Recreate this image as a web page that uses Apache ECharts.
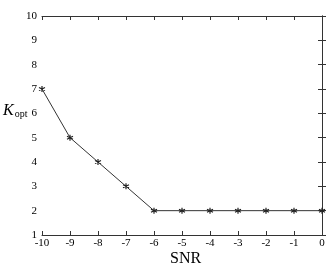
<!DOCTYPE html>
<html>
<head>
<meta charset="utf-8">
<script src="https://cdn.jsdelivr.net/npm/echarts@6/dist/echarts.min.js"></script>
<style>
  html, body { margin: 0; padding: 0; background: #fff; }
  #chart { width: 330px; height: 268px; }
</style>
</head>
<body>
<div id="chart"></div>
<script>
// data
var snr = [-10, -9, -8, -7, -6, -5, -4, -3, -2, -1, 0];
var kopt = [7, 5, 4, 3, 2, 2, 2, 2, 2, 2, 2];

var points = snr.map(function (s, i) { return [s, kopt[i]]; });

var serif = '"Liberation Serif", "DejaVu Serif", serif';
var lineCol = '#333';

var chart = echarts.init(document.getElementById('chart'));

var baseX = {
  type: 'value', min: -10, max: 0, interval: 1,
  axisLine: { lineStyle: { color: lineCol, width: 1 } },
  axisTick: { inside: true, length: 4, lineStyle: { color: lineCol } },
  splitLine: { show: false }
};
var baseY = {
  type: 'value', min: 1, max: 10, interval: 1,
  axisLine: { show: true, lineStyle: { color: lineCol, width: 1 } },
  axisTick: { show: true, inside: true, length: 4, lineStyle: { color: lineCol } },
  splitLine: { show: false }
};

var option = {
  animation: false,
  grid: { left: 42, right: 8, top: 16, bottom: 33 },
  xAxis: [
    Object.assign({}, baseX, {
      position: 'bottom',
      axisLabel: { color: '#000', fontFamily: serif, fontSize: 11, margin: 3 }
    }),
    Object.assign({}, baseX, { position: 'top', axisLabel: { show: false } })
  ],
  yAxis: [
    Object.assign({}, baseY, {
      position: 'left',
      axisLabel: { color: '#000', fontFamily: serif, fontSize: 11, margin: 5 }
    }),
    Object.assign({}, baseY, { position: 'right', axisLabel: { show: false } })
  ],
  graphic: [
    {
      type: 'text', left: 170, top: 251,
      style: { text: 'SNR', font: '16px ' + serif, fill: '#000' }
    },
    {
      type: 'text', left: 3, top: 103,
      style: {
        text: '{k|K}{o|opt}',
        rich: {
          k: { fontFamily: serif, fontStyle: 'italic', fontSize: 16, fill: '#000', verticalAlign: 'bottom' },
          o: { fontFamily: serif, fontSize: 10, fill: '#000', padding: [7, 0, 0, 1] }
        }
      }
    }
  ],
  series: [{
    type: 'line',
    data: points,
    symbol: 'path://M0,-5L0,5M-4.3,-2.5L4.3,2.5M-4.3,2.5L4.3,-2.5',
    symbolSize: 6,
    showAllSymbol: true,
    itemStyle: { color: '#222', borderColor: '#222', borderWidth: 1.2 },
    lineStyle: { color: '#333', width: 1 }
  }]
};

chart.setOption(option);
</script>
</body>
</html>
